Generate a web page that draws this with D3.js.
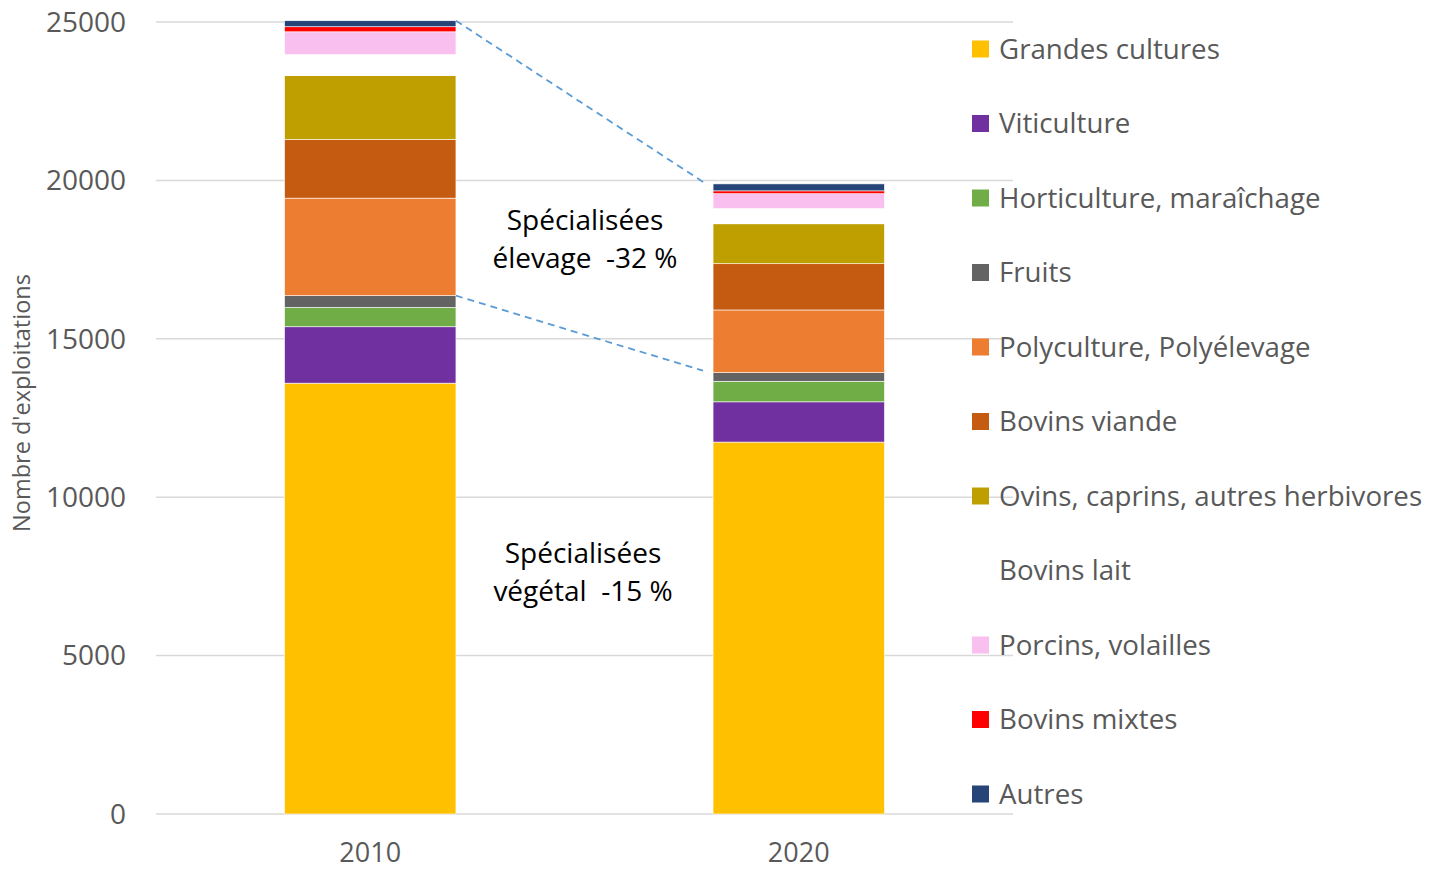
<!DOCTYPE html>
<html>
<head>
<meta charset="utf-8">
<script src="https://cdn.jsdelivr.net/npm/d3@7"></script>
<style>
  body { margin: 0; background: #fff; }
  svg text { font-family: "Open Sans", Lato, sans-serif; }
</style>
</head>
<body>
<div id="chart"></div>
<script>
// Exploitations par orientation technico-économique, 2010 vs 2020
const years = ['2010', '2020'];
const categories = [
    'Grandes cultures', 'Viticulture', 'Horticulture, maraîchage', 'Fruits',
    'Polyculture, Polyélevage', 'Bovins viande', 'Ovins, caprins, autres herbivores',
    'Bovins lait', 'Porcins, volailles', 'Bovins mixtes', 'Autres'
];
const colors = [
    '#ffc000', '#7030a0', '#70ad47', '#636363', '#ed7d31', '#c55a11',
    '#bf9f00', '#ffffff', '#f9bfef', '#ff0000', '#264478'
];
const values2010 = [13600, 1780, 610, 370, 3080, 1850, 2020, 660, 720, 160, 190];
const values2020 = [11740, 1270, 650, 270, 1980, 1460, 1260, 480, 470, 90, 220];
const yTicks = [0, 5000, 10000, 15000, 20000, 25000];
const annotations = [
    { lines: ['Spécialisées', 'élevage  -32 %'], x: 585, y: 220 },
    { lines: ['Spécialisées', 'végétal  -15 %'], x: 583, y: 553 }
];

const width = 1429, height = 870;
const plot = { left: 156, right: 1013, top: 22, bottom: 814 };

const svg = d3.select('#chart').append('svg')
    .attr('width', width)
    .attr('height', height);

const x = d3.scaleBand()
    .domain(years)
    .range([plot.left, plot.right])
    .paddingInner(0.6)
    .paddingOuter(0.3);

const y = d3.scaleLinear()
    .domain([0, 25000])
    .range([plot.bottom, plot.top]);

// Gridlines
svg.append('g')
    .selectAll('line')
    .data(yTicks)
    .enter().append('line')
    .attr('x1', plot.left)
    .attr('x2', plot.right)
    .attr('y1', d => y(d))
    .attr('y2', d => y(d))
    .attr('stroke', '#d9d9d9')
    .attr('stroke-width', 1.5);

// Y tick labels
svg.append('g')
    .selectAll('text')
    .data(yTicks)
    .enter().append('text')
    .attr('x', 126)
    .attr('y', d => y(d))
    .attr('dy', '0.35em')
    .attr('text-anchor', 'end')
    .attr('fill', '#595959')
    .style('font-size', '28px')
    .text(d => d);

// Stack data
const table = years.map((yr, i) => {
    const row = { year: yr };
    categories.forEach((c, j) => { row[c] = (i === 0 ? values2010 : values2020)[j]; });
    return row;
});
const series = d3.stack().keys(categories)(table);

svg.append('g')
    .selectAll('g')
    .data(series)
    .enter().append('g')
    .attr('fill', (d, i) => colors[i])
    .selectAll('rect')
    .data(d => d)
    .enter().append('rect')
    .attr('x', d => x(d.data.year))
    .attr('width', x.bandwidth())
    .attr('y', d => y(d[1]))
    .attr('height', d => y(d[0]) - y(d[1]))
    .attr('stroke', '#fff')
    .attr('stroke-width', 0.6);

// Dashed connector lines: totals and végétal (first four series)
const sumOf = (vals, n) => d3.sum(vals.slice(0, n));
const connectors = [
    [sumOf(values2010, categories.length), sumOf(values2020, categories.length)],
    [sumOf(values2010, 4), sumOf(values2020, 4)]
];
svg.append('g')
    .selectAll('line')
    .data(connectors)
    .enter().append('line')
    .attr('x1', x('2010') + x.bandwidth())
    .attr('y1', d => y(d[0]))
    .attr('x2', x('2020') - 10)
    .attr('y2', d => y(d[1]) - 2)
    .attr('stroke', '#5b9bd5')
    .attr('stroke-width', 1.8)
    .attr('stroke-dasharray', '7,5');

// X labels
svg.append('g')
    .selectAll('text')
    .data(years)
    .enter().append('text')
    .attr('x', d => x(d) + x.bandwidth() / 2)
    .attr('y', 853)
    .attr('dy', '0.35em')
    .attr('text-anchor', 'middle')
    .attr('fill', '#595959')
    .style('font-size', '27px')
    .text(d => d);

// Y axis title
svg.append('text')
    .attr('transform', 'translate(30,403) rotate(-90)')
    .attr('text-anchor', 'middle')
    .attr('fill', '#595959')
    .style('font-size', '23.5px')
    .text("Nombre d'exploitations");

// Annotations
annotations.forEach(a => {
    const t = svg.append('text')
        .attr('text-anchor', 'middle')
        .attr('fill', '#000')
        .style('font-size', '28px')
        .attr('x', a.x)
        .attr('y', a.y);
    a.lines.forEach((l, i) => {
        t.append('tspan')
            .attr('x', a.x)
            .attr('dy', i === 0 ? '0.35em' : 38)
            .style('white-space', 'pre')
            .text(l);
    });
});

// Legend
const legend = svg.append('g')
    .selectAll('g')
    .data(categories)
    .enter().append('g')
    .attr('transform', (d, i) => `translate(972,${49 + i * 74.5})`);

legend.append('rect')
    .attr('x', 0)
    .attr('y', -8.5)
    .attr('width', 17)
    .attr('height', 17)
    .attr('fill', (d, i) => colors[i]);

legend.append('text')
    .attr('x', 27)
    .attr('dy', '0.35em')
    .attr('fill', '#595959')
    .style('font-size', '27.7px')
    .text(d => d);
</script>
</body>
</html>
